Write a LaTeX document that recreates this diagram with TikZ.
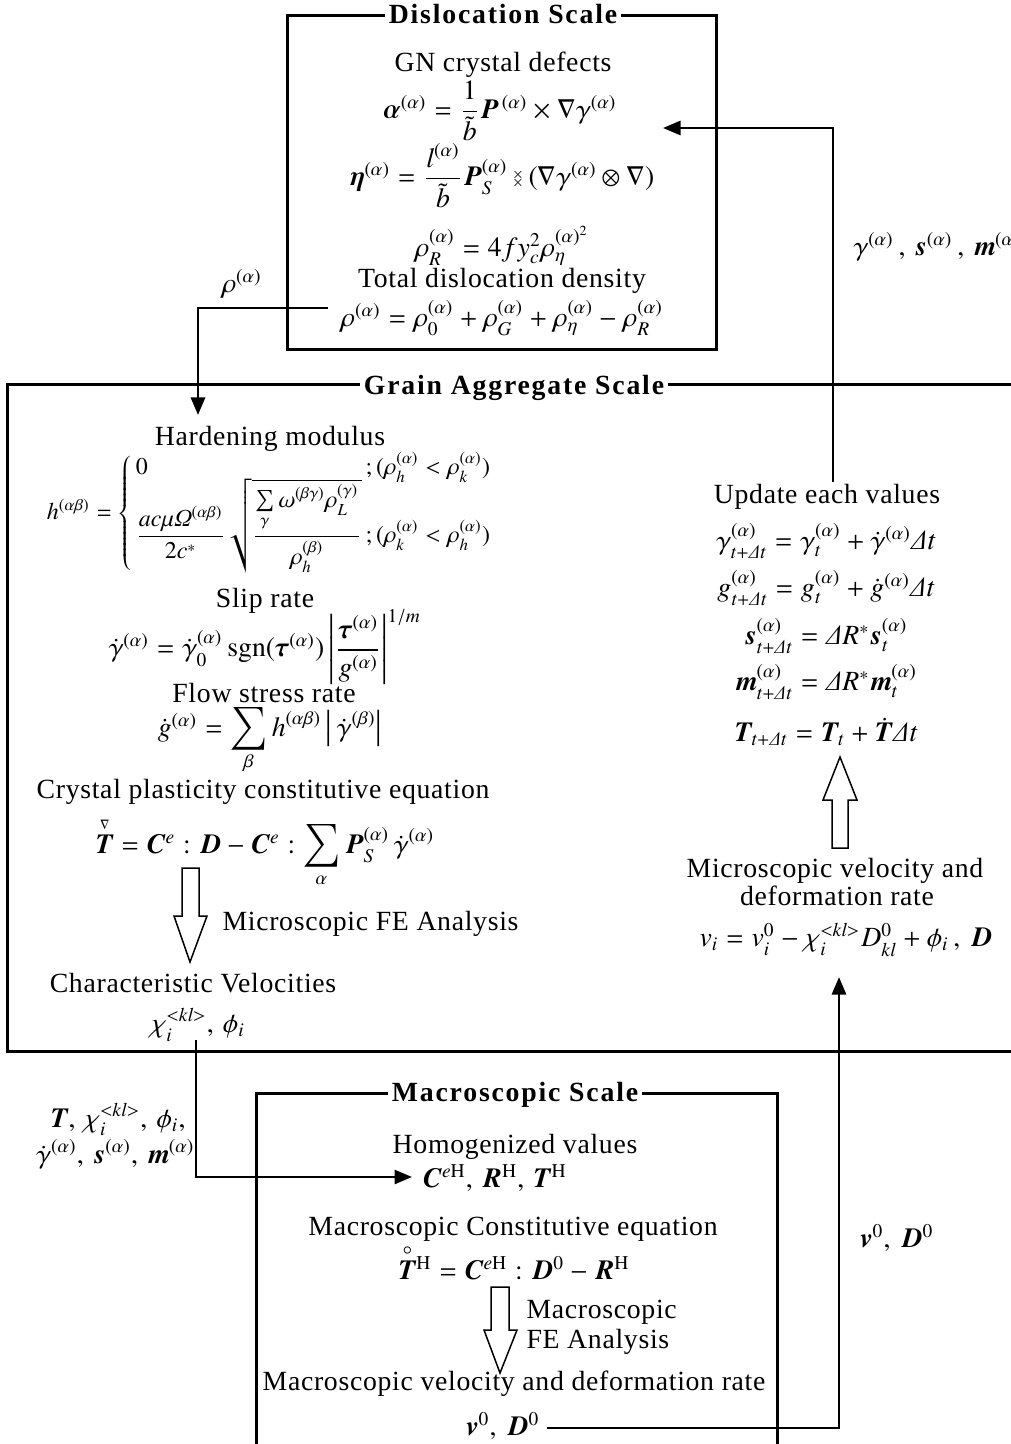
\documentclass[tikz,border=0pt]{standalone}
\usepackage{amsmath}
\IfFileExists{txfonts.sty}{\usepackage{txfonts}}{\usepackage{amssymb}}
\usepackage{bm}
\usepackage[no-math]{fontspec}
\setmainfont[LetterSpace=2.5]{Liberation Serif}
\usetikzlibrary{arrows.meta}
\newcommand{\fs}{\fontsize{11.1}{13.3}\selectfont}
\newcommand{\stx}{\vcenter{\offinterlineskip\hbox{$\scriptscriptstyle\times$}\kern0.3pt\hbox{$\scriptscriptstyle\times$}}}
\begin{document}
\begin{tikzpicture}[x=0.4pt,y=-0.4pt,
  every node/.style={inner sep=0pt, font=\fs},
  lbl/.style={anchor=base},
  ttl/.style={anchor=base, fill=white, inner xsep=1.5pt, inner ysep=2pt, font=\fs\bfseries\addfontfeature{LetterSpace=6.5}},
  frame/.style={line width=1.2pt},
  conn/.style={line width=1.1pt},
  arr/.style={conn, -{Triangle[length=7pt,width=5.6pt]}},
  hollow/.style={line width=0.6pt, fill=white}]
\useasboundingbox (0,0) rectangle (1011,1444);
% frames
\draw[frame] (287,16) rectangle (716,350);
\draw[frame] (1020,385) -- (7,385) -- (7,1051) -- (1020,1051);
\draw[frame] (256,1450) -- (256,1093) -- (777,1093) -- (777,1450);
% titles
\node[ttl] (tdis) at (503,24) {Dislocation Scale};
\node[ttl] (tgra) at (514,394) {Grain Aggregate Scale};
\node[ttl] (tmac) at (515,1101) {Macroscopic Scale};
% dislocation scale
\node[lbl] (gn) at (503,72) {GN crystal defects};
\node (alpheq) at (500,111) {$\bm\alpha^{(\alpha)}=\dfrac{1}{\tilde b}\bm P^{\,(\alpha)}\times\nabla\gamma^{(\alpha)}$};
\node (etaeq) at (502,176) {$\bm\eta^{(\alpha)}=\dfrac{l^{(\alpha)}}{\tilde b}\bm P_S^{(\alpha)}\mathbin{\stx}(\nabla\gamma^{(\alpha)}\otimes\nabla)$};
\node (rhoReq) at (502,246) {$\rho_R^{(\alpha)}=4fy_c^2\rho_\eta^{(\alpha)^2}$};
\node[lbl] (tot) at (502,288) {Total dislocation density};
\node (rhoeq) at (502,318) {$\rho^{(\alpha)}=\rho_0^{(\alpha)}+\rho_G^{(\alpha)}+\rho_\eta^{(\alpha)}-\rho_R^{(\alpha)}$};
\node (rholbl) at (242,284) {$\rho^{(\alpha)}$};
\node[anchor=west] (gsm) at (853,247) {$\gamma^{(\alpha)}\,,\,\bm s^{(\alpha)}\,,\,\bm m^{(\alpha)}$};
% grain aggregate scale, left column
\node[lbl] (hmod) at (270,445) {Hardening modulus};
\node[font=\fontsize{9.6}{11.5}\selectfont] (heq) at (270,513) {$h^{(\alpha\beta)}=\left\{\begin{array}{@{\,}l@{\,}l@{}}
 0 & ;(\rho_h^{(\alpha)}<\rho_k^{(\alpha)})\\[-2pt]
 \dfrac{ac\mu\varOmega^{(\alpha\beta)}}{2c^*}\sqrt{\dfrac{\mathop{\textstyle\sum}\limits_{\gamma}\omega^{(\beta\gamma)}\rho_L^{(\gamma)}}{\rho_h^{(\beta)}}} & ;(\rho_k^{(\alpha)}<\rho_h^{(\alpha)})
 \end{array}\right.$};
\node[lbl] (slip) at (265,607) {Slip rate};
\node (gdeq) at (265,647) {$\dot\gamma^{(\alpha)}=\dot\gamma_0^{(\alpha)}\,\mathrm{sgn}(\bm\tau^{(\alpha)})\left|\dfrac{\bm\tau^{(\alpha)}}{g^{(\alpha)}}\right|^{1/m}$};
\node[lbl] (flow) at (264,702) {Flow stress rate};
\node (gdoteq) at (270,741) {$\dot g^{(\alpha)}=\displaystyle\sum_{\beta}h^{(\alpha\beta)}\left|\,\dot\gamma^{(\beta)}\right|$};
\node[lbl] (cp) at (263,798) {Crystal plasticity constitutive equation};
\node (teq) at (265,852) {$\overset{\scriptscriptstyle\nabla}{\bm T}=\bm C^e:\bm D-\bm C^e:\displaystyle\sum_{\alpha}\bm P_S^{(\alpha)}\,\dot\gamma^{(\alpha)}$};
\draw[hollow] (182,868) -- (199,868) -- (199,916) -- (207,916) -- (190,962) -- (174,916) -- (182,916) -- cycle;
\node[lbl, anchor=base west] (mfe) at (222,930) {Microscopic FE Analysis};
\node[lbl] (cv) at (193,992) {Characteristic Velocities};
\node (chieq) at (198,1025) {$\chi_i^{<kl>},\,\phi_i$};
% grain aggregate scale, right column
\node[lbl] (upd) at (827,503) {Update each values};
\node (u1) at (826,541) {$\gamma_{t+\varDelta t}^{(\alpha)}=\gamma_t^{(\alpha)}+\dot\gamma^{(\alpha)}\varDelta t$};
\node (u2) at (826,588) {$g_{t+\varDelta t}^{(\alpha)}=g_t^{(\alpha)}+\dot g^{(\alpha)}\varDelta t$};
\node (u3) at (826,636) {$\bm s_{t+\varDelta t}^{(\alpha)}=\varDelta R^*\bm s_t^{(\alpha)}$};
\node (u4) at (826,682) {$\bm m_{t+\varDelta t}^{(\alpha)}=\varDelta R^*\bm m_t^{(\alpha)}$};
\node (u5) at (826,732) {$\bm T_{t+\varDelta t}=\bm T_t+\dot{\bm T}\varDelta t$};
\draw[hollow] (832,848) -- (848,848) -- (848,800) -- (857,800) -- (840,757) -- (823,800) -- (832,800) -- cycle;
\node[lbl] (mv1) at (835,877) {Microscopic velocity and};
\node[lbl] (mv2) at (837,905) {deformation rate};
\node (vieq) at (846,940) {$v_i=v_i^0-\chi_i^{<kl>}D_{kl}^0+\phi_i\,,\,\bm D$};
% labels between scales
\node[anchor=base east] (lab1) at (186,1127) {$\bm T,\,\chi_i^{<kl>},\,\phi_i,$};
\node[anchor=base east] (lab2) at (195,1163) {$\dot\gamma^{(\alpha)},\,\bm s^{(\alpha)},\,\bm m^{(\alpha)}$};
\node (v0lbl) at (897,1238) {$\bm v^0,\,\bm D^0$};
% macroscopic scale
\node[lbl] (homo) at (515,1153) {Homogenized values};
\node (homeq) at (495,1178) {$\bm C^{e\mathrm H},\,\bm R^{\mathrm H},\,\bm T^{\mathrm H}$};
\node[lbl] (mce) at (513,1235) {Macroscopic Constitutive equation};
\node (mceq) at (514,1262) {$\overset{\circ}{\bm T}{}^{\mathrm H}=\bm C^{e\mathrm H}:\bm D^0-\bm R^{\mathrm H}$};
\draw[hollow] (491,1287) -- (509,1287) -- (509,1330) -- (517,1330) -- (500,1373) -- (484,1330) -- (491,1330) -- cycle;
\node[lbl, anchor=base west] (mfe1) at (526,1318) {Macroscopic};
\node[lbl, anchor=base west] (mfe2) at (526,1348) {FE Analysis};
\node[lbl] (mvd) at (514,1390) {Macroscopic velocity and deformation rate};
\node (v0eq) at (503,1426) {$\bm v^0,\,\bm D^0$};
% connectors
\coordinate (rhoout) at (328,308);
\coordinate (rhoin) at (198,415);
\draw[arr] (rhoout) -| (rhoin);
\coordinate (updtop) at (833,482);
\coordinate (disin) at (663,128);
\draw[arr] (updtop) |- (disin);
\coordinate (chiout) at (196,1040);
\coordinate (macin) at (412,1177);
\draw[arr] (chiout) |- (macin);
\coordinate (v0out) at (547,1428);
\coordinate (vin) at (839,977);
\draw[arr] (v0out) -| (vin);
\end{tikzpicture}
\end{document}
